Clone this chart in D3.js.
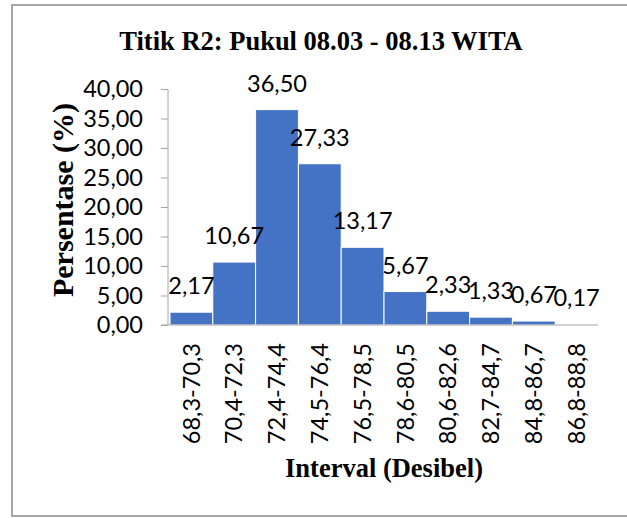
<!DOCTYPE html>
<html>
<head>
<meta charset="utf-8">
<script src="https://cdn.jsdelivr.net/npm/d3@7"></script>
<style>
  body { margin: 0; background: #fff; }
  svg { display: block; }
</style>
</head>
<body>
<svg width="627" height="518"></svg>
<script>
// data
var categories = ['68,3-70,3','70,4-72,3','72,4-74,4','74,5-76,4','76,5-78,5','78,6-80,5','80,6-82,6','82,7-84,7','84,8-86,7','86,8-88,8'];
var values = [2.17, 10.67, 36.50, 27.33, 13.17, 5.67, 2.33, 1.33, 0.67, 0.17];
var yTicks = [0, 5, 10, 15, 20, 25, 30, 35, 40];

var svg = d3.select('svg');
var numFont = 'Lato, "Open Sans", sans-serif';
var serif = '"Liberation Serif", "Times New Roman", serif';

// outer frame
svg.append('rect').attr('x', 12).attr('y', 5).attr('width', 640).attr('height', 511)
  .attr('fill', 'none').attr('stroke', '#a6a6a6').attr('stroke-width', 2);

var pLeft = 168, pRight = 598, pTop = 89, pBottom = 325;

var x = d3.scaleBand().domain(categories).range([pLeft + 2, pRight]).padding(0);
var y = d3.scaleLinear().domain([0, 40]).range([pBottom, pTop]);

var fmt = function(v) { return d3.format('.2f')(v).replace('.', ','); };

// title
svg.append('text').attr('x', 321).attr('y', 50).attr('text-anchor', 'middle')
  .attr('font-family', serif).attr('font-weight', 'bold').attr('font-size', 26.5)
  .text('Titik R2: Pukul 08.03 - 08.13 WITA');

// bars
svg.selectAll('rect.bar').data(values).enter().append('rect')
  .attr('class', 'bar')
  .attr('x', function(d, i) { return x(categories[i]); })
  .attr('y', function(d) { return y(d); })
  .attr('width', x.bandwidth())
  .attr('height', function(d) { return pBottom - y(d); })
  .attr('fill', '#4472c4').attr('stroke', '#fff').attr('stroke-width', 1);

// y axis
var yAxis = d3.axisLeft(y).tickValues(yTicks).tickSize(7).tickFormat(fmt);
var gy = svg.append('g').attr('transform', 'translate(' + pLeft + ',0)').call(yAxis);
gy.select('.domain').attr('stroke', '#a6a6a6').attr('d', 'M0,' + pTop + 'V' + pBottom);
gy.selectAll('.tick line').attr('stroke', '#a6a6a6');
gy.selectAll('.tick text').attr('x', -25).attr('font-family', numFont).attr('font-size', 23.5).attr('fill', '#000');

// x axis
var xAxis = d3.axisBottom(x).tickSize(0);
var gx = svg.append('g').attr('transform', 'translate(0,' + pBottom + ')').call(xAxis);
gx.select('.domain').attr('stroke', '#a6a6a6').attr('d', 'M' + (pLeft - 7) + ',0H' + pRight);
gx.selectAll('.tick text')
  .attr('font-family', numFont).attr('font-size', 23.5).attr('fill', '#000')
  .attr('transform', 'rotate(-90)')
  .attr('x', -18).attr('y', 0).attr('dy', '0.35em')
  .attr('text-anchor', 'end');

// value labels
svg.selectAll('text.val').data(values).enter().append('text')
  .attr('class', 'val')
  .attr('x', function(d, i) { return x(categories[i]) + x.bandwidth() / 2; })
  .attr('y', function(d) { return y(d) - 18; })
  .attr('text-anchor', 'middle')
  .attr('font-family', numFont).attr('font-size', 23.5)
  .text(fmt);

// axis titles
svg.append('text').attr('x', 384).attr('y', 477).attr('text-anchor', 'middle')
  .attr('font-family', serif).attr('font-weight', 'bold').attr('font-size', 26.5)
  .text('Interval (Desibel)');
svg.append('text').attr('transform', 'translate(73,200) rotate(-90)').attr('text-anchor', 'middle')
  .attr('font-family', serif).attr('font-weight', 'bold').attr('font-size', 30)
  .text('Persentase (%)');
</script>
</body>
</html>
